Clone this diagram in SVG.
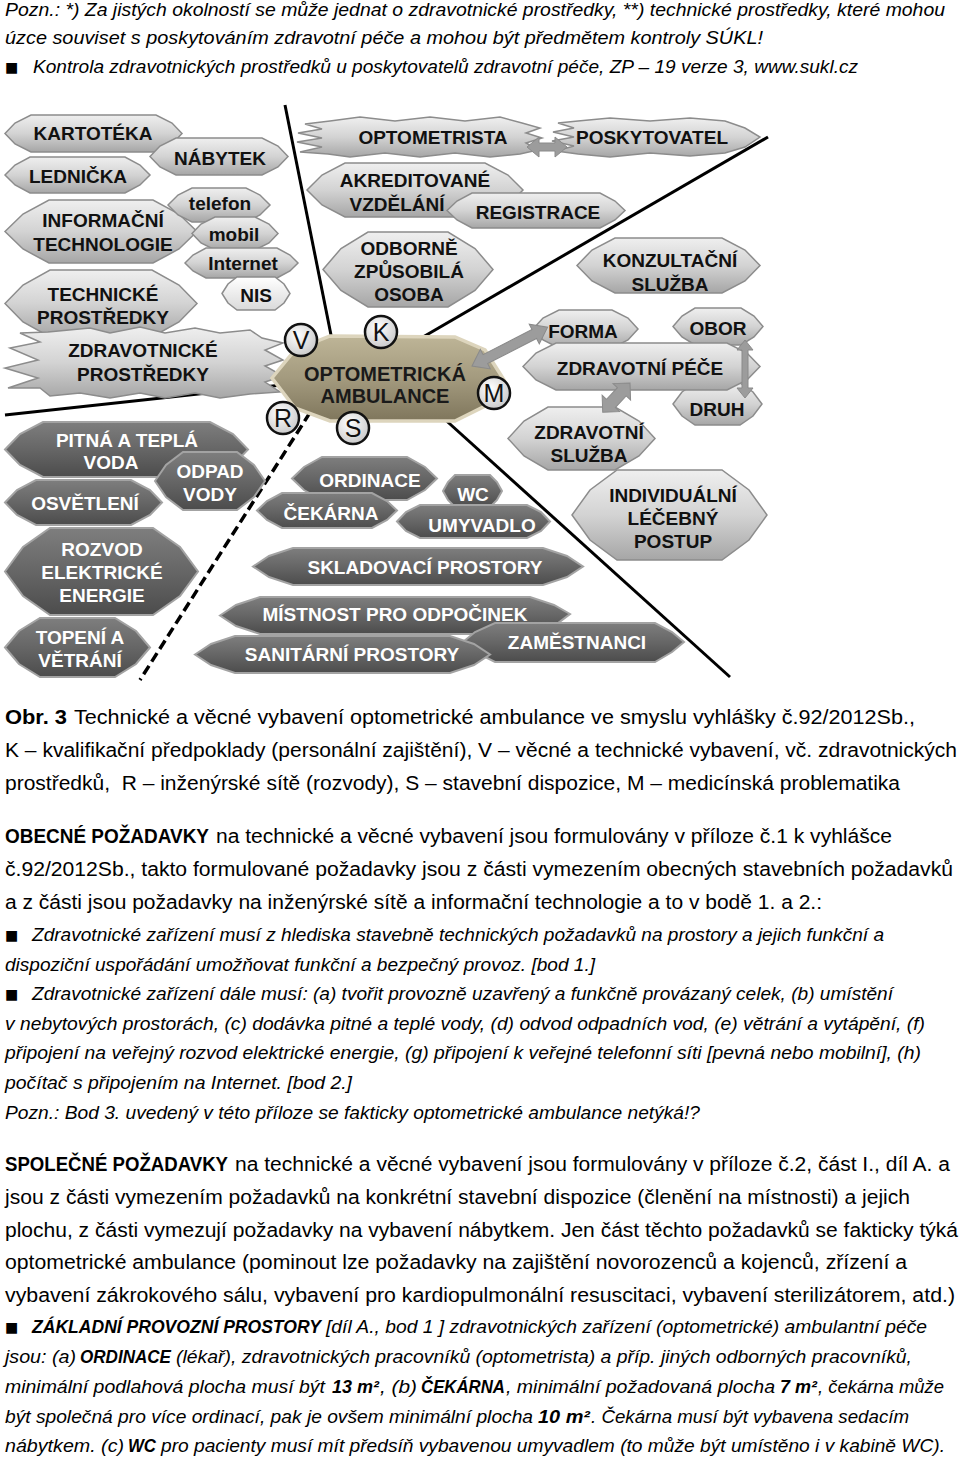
<svg xmlns="http://www.w3.org/2000/svg" width="960" height="1460" viewBox="0 0 960 1460">
<defs>
<linearGradient id="gL" x1="0" y1="0" x2="0" y2="1"><stop offset="0" stop-color="#efefef"/><stop offset="0.5" stop-color="#d3d3d3"/><stop offset="1" stop-color="#a6a6a6"/></linearGradient>
<linearGradient id="gW" x1="0" y1="0" x2="0" y2="1"><stop offset="0" stop-color="#ffffff"/><stop offset="1" stop-color="#dadada"/></linearGradient>
<linearGradient id="gD" x1="0" y1="0" x2="0" y2="1"><stop offset="0" stop-color="#7e7e7e"/><stop offset="0.5" stop-color="#666"/><stop offset="1" stop-color="#4c4c4c"/></linearGradient>
<linearGradient id="gA" x1="0" y1="0" x2="0" y2="1"><stop offset="0" stop-color="#beb597"/><stop offset="0.5" stop-color="#a39a7e"/><stop offset="1" stop-color="#7f765c"/></linearGradient>
<radialGradient id="gC" cx="0.4" cy="0.35" r="0.7"><stop offset="0" stop-color="#ffffff"/><stop offset="1" stop-color="#c8c8c8"/></radialGradient>
<style>
.lt{fill:url(#gL);stroke:#8c8c8c;stroke-width:1.5}
.wt{fill:url(#gW);stroke:#8c8c8c;stroke-width:1.5}
.dk{fill:url(#gD);stroke:#a3a3a3;stroke-width:2}
.amb{fill:url(#gA);stroke:#ddd5bd;stroke-width:3.5}
.nt{font-family:"Liberation Sans",Arial,sans-serif;font-weight:700;font-size:19px;text-anchor:middle;fill:#111}
.nw{font-family:"Liberation Sans",Arial,sans-serif;font-weight:700;font-size:19px;text-anchor:middle;fill:#fff}
.na{font-family:"Liberation Sans",Arial,sans-serif;font-weight:700;font-size:20px;text-anchor:middle;fill:#1a1a1a}
.sep{stroke:#000;stroke-width:3;fill:none}
.dash{stroke:#000;stroke-width:3.5;stroke-dasharray:10 5;fill:none}
.arr{fill:#9c9c9c;stroke:#8a8a8a;stroke-width:1}
.circ{fill:url(#gC);stroke:#111;stroke-width:2.5}
.ct{font-family:"Liberation Sans",Arial,sans-serif;font-size:25px;text-anchor:middle;fill:#111}
.tx{font-family:"Liberation Sans",Arial,sans-serif;font-size:20px;fill:#000}
.it{font-family:"Liberation Sans",Arial,sans-serif;font-size:18px;font-style:italic;fill:#000}
.top{font-family:"Liberation Sans",Arial,sans-serif;font-size:19px;font-style:italic;fill:#000}
.bd{font-weight:700}
.bu{font-family:"DejaVu Sans",sans-serif;font-size:14px;fill:#000}
</style>
</defs>
<rect width="960" height="1460" fill="#fff"/>

<!-- header notes -->
<g id="notes">
<text class="top" x="5" y="16" textLength="940" lengthAdjust="spacingAndGlyphs">Pozn.: *) Za jistých okolností se může jednat o zdravotnické prostředky, **) technické prostředky, které mohou</text>
<text class="top" x="5" y="44" textLength="758" lengthAdjust="spacingAndGlyphs">úzce souviset s poskytováním zdravotní péče a mohou být předmětem kontroly SÚKL!</text>
<text class="bu" x="5" y="72">■</text>
<text class="top" x="33" y="73" textLength="825" lengthAdjust="spacingAndGlyphs">Kontrola zdravotnických prostředků u poskytovatelů zdravotní péče, ZP – 19 verze 3, www.sukl.cz</text>
</g>

<!-- separators -->
<g id="separators">
<line class="sep" x1="285" y1="105" x2="333" y2="345"/>
<line class="sep" x1="423" y1="337" x2="768" y2="137"/>
<line class="sep" x1="440" y1="415" x2="730" y2="677"/>
<line class="sep" x1="5" y1="415" x2="282" y2="385"/>
<line class="dash" x1="318" y1="400" x2="140" y2="680"/>
</g>

<!-- left top -->
<g id="kartoteka"><polygon class="lt" points="5,133.5 15,123 31,115 156,115 172,123 182,133.5 172,144 156,152 31,152 15,144"/><text class="nt" x="93" y="140">KARTOTÉKA</text></g>
<g id="nabytek"><polygon class="lt" points="150,156.5 160,146 176,138 262,138 278,146 288,156.5 278,167 262,175 176,175 160,167"/><text class="nt" x="220" y="165">NÁBYTEK</text></g>
<g id="lednicka"><polygon class="lt" points="5,175 15,165 30,157 125,157 140,165 150,175 140,185 125,193 30,193 15,185"/><text class="nt" x="78" y="183">LEDNIČKA</text></g>
<g id="informacni"><polygon class="lt" points="5,231.5 23,214 49,200 153,200 179,214 197,231.5 179,249 153,263 49,263 23,249"/><text class="nt" x="103" y="227">INFORMAČNÍ</text><text class="nt" x="103" y="251">TECHNOLOGIE</text></g>
<g id="telefon"><polygon class="lt" points="168,205 178,195 192,188 246,188 260,195 270,205 260,215 246,222 192,222 178,215"/><text class="nt" x="220" y="210">telefon</text></g>
<g id="mobil"><polygon class="lt" points="192,233.5 201,224 215,217 255,217 269,224 278,233.5 269,243 255,250 215,250 201,243"/><text class="nt" x="234" y="241">mobil</text></g>
<g id="internet"><polygon class="lt" points="185,263 193,255 206,248 277,248 290,255 298,263 290,271 277,278 206,278 193,271"/><text class="nt" x="243" y="270">Internet</text></g>
<g id="nis"><polygon class="wt" points="222,293.5 228,284 237,277 275,277 284,284 290,293.5 284,303 275,310 237,310 228,303"/><text class="nt" x="256" y="302">NIS</text></g>
<g id="technicke"><polygon class="lt" points="5,303.5 23,285 50,270 152,270 179,285 197,303.5 179,322 152,337 50,337 23,322"/><text class="nt" x="103" y="301">TECHNICKÉ</text><text class="nt" x="103" y="324">PROSTŘEDKY</text></g>
<g id="zdravotnicke"><polygon class="lt" points="48,332 90,328 110,333 140,327 165,333 195,328 220,333 250,330 262,338 283,343 265,350 283,360 265,366 283,376 265,382 280,392 250,394 220,398 195,393 165,398 140,393 110,398 80,393 50,396 40,388 8,388 38,378 5,368 38,360 10,348 40,342 20,333"/><text class="nt" x="143" y="357">ZDRAVOTNICKÉ</text><text class="nt" x="143" y="381">PROSTŘEDKY</text></g>

<!-- left bottom -->
<g id="pitna"><polygon class="dk" points="5,449.5 20,434 43,422 210,422 233,434 248,449.5 233,465 210,477 43,477 20,465"/><text class="nw" x="127" y="447">PITNÁ  A TEPLÁ</text><text class="nw" x="111" y="469">VODA</text></g>
<g id="osvetleni"><polygon class="dk" points="5,502.5 17,490 36,480 131,480 150,490 162,502.5 150,515 131,525 36,525 17,515"/><text class="nw" x="85" y="510">OSVĚTLENÍ</text></g>
<g id="odpad"><polygon class="dk" points="155,481 166,465 183,452 237,452 254,465 265,481 254,497 237,510 183,510 166,497"/><text class="nw" x="210" y="478">ODPAD</text><text class="nw" x="210" y="501">VODY</text></g>
<g id="rozvod"><polygon class="dk" points="5,571.5 23,547 50,528 153,528 180,547 198,571.5 180,596 153,615 50,615 23,596"/><text class="nw" x="102" y="556">ROZVOD</text><text class="nw" x="102" y="579">ELEKTRICKÉ</text><text class="nw" x="102" y="602">ENERGIE</text></g>
<g id="topeni"><polygon class="dk" points="5,647.5 19,631 40,618 115,618 136,631 150,647.5 136,664 115,677 40,677 19,664"/><text class="nw" x="80" y="644">TOPENÍ  A</text><text class="nw" x="80" y="667">VĚTRÁNÍ</text></g>

<!-- middle top -->
<g id="optometrista"><polygon class="lt" points="330,121 360,117 395,121 430,117 465,121 500,117 522,123 540,128 526,133 542,138 526,143 538,150 520,154 490,157 455,153 420,157 385,153 350,157 328,154 300,152 322,147 297,142 322,138 298,133 322,129 305,124"/><text class="nt" x="433" y="144">OPTOMETRISTA</text></g>
<g id="poskytovatel"><polygon class="lt" points="578,121 610,118 650,121 690,118 725,121 745,128 760,137 745,147 725,153 690,156 650,153 610,157 578,154 556,151 574,146 552,141 574,137 553,132 574,128 558,123"/><text class="nt" x="652" y="144">POSKYTOVATEL</text></g>
<g id="akreditovane"><polygon class="lt" points="307,190 322,175 345,163 485,163 508,175 523,190 508,205 485,217 345,217 322,205"/><text class="nt" x="415" y="187">AKREDITOVANÉ</text><text class="nt" x="397" y="211">VZDĚLÁNÍ</text></g>
<g id="registrace"><polygon class="lt" points="447,210.5 457,201 472,193 600,193 615,201 625,210.5 615,220 600,228 472,228 457,220"/><text class="nt" x="538" y="219">REGISTRACE</text></g>
<g id="odborne"><polygon class="lt" points="323,269.5 341,248.5 368,232 448,232 475,248.5 493,269.5 475,290.5 448,307 368,307 341,290.5"/><text class="nt" x="409" y="255">ODBORNĚ</text><text class="nt" x="409" y="278">ZPŮSOBILÁ</text><text class="nt" x="409" y="301">OSOBA</text></g>

<!-- right -->
<g id="konzultacni"><polygon class="lt" points="577,265.5 592,250 615,238 722,238 745,250 760,265.5 745,281 722,293 615,293 592,281"/><text class="nt" x="670" y="267">KONZULTAČNÍ</text><text class="nt" x="670" y="291">SLUŽBA</text></g>
<g id="forma"><polygon class="lt" points="533,329 543,318 559,310 612,310 628,318 638,329 628,340 612,348 559,348 543,340"/><text class="nt" x="583" y="338">FORMA</text></g>
<g id="obor"><polygon class="lt" points="673,326.5 682,316 695,308 741,308 754,316 763,326.5 754,337 741,345 695,345 682,337"/><text class="nt" x="718" y="335">OBOR</text></g>
<g id="druh"><polygon class="lt" points="673,404 682,392 695,383 740,383 753,392 762,404 753,416 740,425 695,425 682,416"/><text class="nt" x="717" y="416">DRUH</text></g>
<g id="zdravotni-pece"><polygon class="lt" points="523,366.5 536,353 556,343 727,343 747,353 760,366.5 747,380 727,390 556,390 536,380"/><text class="nt" x="640" y="375">ZDRAVOTNÍ PÉČE</text></g>
<g id="zdravotni-sluzba"><polygon class="lt" points="508,438.5 524,421 548,407 615,407 639,421 655,438.5 639,456 615,470 548,470 524,456"/><text class="nt" x="589" y="439">ZDRAVOTNÍ</text><text class="nt" x="589" y="462">SLUŽBA</text></g>
<g id="individualni"><polygon class="lt" points="572,515 590,490 617,470 722,470 749,490 767,515 749,540 722,560 617,560 590,540"/><text class="nt" x="673" y="502">INDIVIDUÁLNÍ</text><text class="nt" x="673" y="525">LÉČEBNÝ</text><text class="nt" x="673" y="548">POSTUP</text></g>

<!-- middle bottom -->
<g id="ordinace"><polygon class="dk" points="292,478.5 304,467 322,457 407,457 425,467 437,478.5 425,490 407,500 322,500 304,490"/><text class="nw" x="370" y="487">ORDINACE</text></g>
<g id="cekarna"><polygon class="dk" points="257,510.5 267,501 282,493 372,493 387,501 397,510.5 387,520 372,528 282,528 267,520"/><text class="nw" x="331" y="520">ČEKÁRNA</text></g>
<g id="wc"><polygon class="dk" points="443,491 448,482 455,475 490,475 497,482 502,491 497,500 490,507 455,507 448,500"/><text class="nw" x="473" y="501">WC</text></g>
<g id="umyvadlo"><polygon class="dk" points="397,521.5 406,512 420,505 527,505 541,512 550,521.5 541,531 527,538 420,538 406,531"/><text class="nw" x="482" y="532">UMYVADLO</text></g>
<g id="skladovaci"><polygon class="dk" points="253,566.5 269,556 293,548 543,548 567,556 583,566.5 567,577 543,585 293,585 269,577"/><text class="nw" x="425" y="574">SKLADOVACÍ PROSTORY</text></g>
<g id="mistnost"><polygon class="dk" points="220,615.5 236,605 260,597 530,597 554,605 570,614 554,626 530,634 260,634 236,626"/><text class="nw" x="395" y="621">MÍSTNOST PRO ODPOČINEK</text></g>
<g id="zamestnanci"><polygon class="dk" points="463,642 475,632 495,623 655,623 672,632 684,642 672,652 655,662 495,662 475,652"/><text class="nw" x="577" y="649">ZAMĚSTNANCI</text></g>
<g id="sanitarni"><polygon class="dk" points="195,654.5 211,644 235,636 450,636 474,644 490,654.5 474,665 450,673 235,673 211,665"/><text class="nw" x="352" y="661">SANITÁRNÍ PROSTORY</text></g>

<!-- central node -->
<g id="ambulance"><polygon class="amb" points="272,378 295,350 330,336 455,337 485,350 504,380 485,406 455,421 330,421 295,408"/><text class="na" x="385" y="381">OPTOMETRICKÁ</text><text class="na" x="385" y="403">AMBULANCE</text></g>
<g id="mark-v"><circle class="circ" cx="301" cy="340" r="16"/><text class="ct" x="301" y="349">V</text></g>
<g id="mark-k"><circle class="circ" cx="381" cy="332" r="16"/><text class="ct" x="381" y="341">K</text></g>
<g id="mark-m"><circle class="circ" cx="494" cy="393" r="16"/><text class="ct" x="494" y="402">M</text></g>
<g id="mark-r"><circle class="circ" cx="283" cy="418" r="16"/><text class="ct" x="283" y="427">R</text></g>
<g id="mark-s"><circle class="circ" cx="353" cy="428" r="16"/><text class="ct" x="353" y="437">S</text></g>

<!-- connectors (gray double arrows) -->
<g id="connectors">
<polygon class="arr" points="527,147 539,137 539,143 555,143 555,137 567,147 555,157 555,151 539,151 539,157"/>
<polygon class="arr" transform="translate(472,366) rotate(-27.2)" points="0,0 15,-11 15,-5 70,-5 70,-11 85,0 70,11 70,5 15,5 15,11"/>
<polygon class="arr" transform="translate(745,340) rotate(90)" points="0,0 10,-8 10,-3 48,-3 48,-8 58,0 48,8 48,3 10,3 10,8"/>
<polygon class="arr" transform="translate(630,383) rotate(133)" points="0,0 12,-12 12,-6 28,-6 28,-12 40,0 28,12 28,6 12,6 12,12"/>
</g>

<!-- caption -->
<g id="caption">
<text class="tx bd" x="5" y="724" textLength="62" lengthAdjust="spacingAndGlyphs">Obr. 3</text>
<text class="tx" x="74" y="724" textLength="841" lengthAdjust="spacingAndGlyphs">Technické a věcné vybavení optometrické ambulance ve smyslu vyhlášky č.92/2012Sb.,</text>
<text class="tx" x="5" y="757" textLength="952" lengthAdjust="spacingAndGlyphs">K – kvalifikační předpoklady (personální zajištění), V – věcné a technické vybavení, vč. zdravotnických</text>
<text class="tx" x="5" y="790" textLength="895" lengthAdjust="spacingAndGlyphs">prostředků,&#160; R – inženýrské sítě (rozvody), S – stavební dispozice, M – medicínská problematika</text>
</g>

<g id="obecne">
<text class="tx bd" x="5" y="843" textLength="204" lengthAdjust="spacingAndGlyphs">OBECNÉ POŽADAVKY</text>
<text class="tx" x="216" y="843" textLength="676" lengthAdjust="spacingAndGlyphs">na technické a věcné vybavení jsou formulovány v příloze č.1 k vyhlášce</text>
<text class="tx" x="5" y="876" textLength="948" lengthAdjust="spacingAndGlyphs">č.92/2012Sb., takto formulované požadavky jsou z části vymezením obecných stavebních požadavků</text>
<text class="tx" x="5" y="909" textLength="817" lengthAdjust="spacingAndGlyphs">a z části jsou požadavky na inženýrské sítě a informační technologie a to v bodě 1. a 2.:</text>
<text class="bu" x="5" y="940">■</text>
<text class="it" x="32" y="941" textLength="852" lengthAdjust="spacingAndGlyphs">Zdravotnické zařízení musí z hlediska stavebně technických požadavků na prostory a jejich funkční a</text>
<text class="it" x="5" y="971" textLength="590" lengthAdjust="spacingAndGlyphs">dispoziční uspořádání umožňovat funkční a bezpečný provoz. [bod 1.]</text>
<text class="bu" x="5" y="999">■</text>
<text class="it" x="32" y="1000" textLength="861" lengthAdjust="spacingAndGlyphs">Zdravotnické zařízení dále musí: (a) tvořit provozně uzavřený a funkčně provázaný celek, (b) umístění</text>
<text class="it" x="5" y="1030" textLength="920" lengthAdjust="spacingAndGlyphs">v nebytových prostorách, (c) dodávka pitné a teplé vody, (d) odvod odpadních vod, (e) větrání a vytápění, (f)</text>
<text class="it" x="5" y="1059" textLength="916" lengthAdjust="spacingAndGlyphs">připojení na veřejný rozvod elektrické energie, (g) připojení k veřejné telefonní síti [pevná nebo mobilní], (h)</text>
<text class="it" x="5" y="1089" textLength="347" lengthAdjust="spacingAndGlyphs">počítač s připojením na Internet. [bod 2.]</text>
<text class="it" x="5" y="1119" textLength="695" lengthAdjust="spacingAndGlyphs">Pozn.: Bod 3. uvedený v této příloze se fakticky optometrické ambulance netýká!?</text>
</g>

<g id="spolecne">
<text class="tx bd" x="5" y="1171" textLength="223" lengthAdjust="spacingAndGlyphs">SPOLEČNÉ POŽADAVKY</text>
<text class="tx" x="235" y="1171" textLength="715" lengthAdjust="spacingAndGlyphs">na technické a věcné vybavení jsou formulovány v příloze č.2, část I., díl A. a</text>
<text class="tx" x="5" y="1204" textLength="905" lengthAdjust="spacingAndGlyphs">jsou z části vymezením požadavků na konkrétní stavební dispozice (členění na místnosti) a jejich</text>
<text class="tx" x="5" y="1237" textLength="953" lengthAdjust="spacingAndGlyphs">plochu, z části vymezují požadavky na vybavení nábytkem. Jen část těchto požadavků se fakticky týká</text>
<text class="tx" x="5" y="1269" textLength="902" lengthAdjust="spacingAndGlyphs">optometrické ambulance (pominout lze požadavky na zajištění novorozenců a kojenců, zřízení a</text>
<text class="tx" x="5" y="1302" textLength="950" lengthAdjust="spacingAndGlyphs">vybavení zákrokového sálu, vybavení pro kardiopulmonální resuscitaci, vybavení sterilizátorem, atd.)</text>
<text class="bu" x="5" y="1332">■</text>
<text class="it bd" x="32" y="1333" textLength="289" lengthAdjust="spacingAndGlyphs">ZÁKLADNÍ PROVOZNÍ PROSTORY</text>
<text class="it" x="326" y="1333" textLength="601" lengthAdjust="spacingAndGlyphs">[díl A., bod 1 ] zdravotnických zařízení (optometrické) ambulantní péče</text>
<text class="it" x="5" y="1363" textLength="71" lengthAdjust="spacingAndGlyphs">jsou: (a)</text>
<text class="it bd" x="80" y="1363" textLength="91" lengthAdjust="spacingAndGlyphs">ORDINACE</text>
<text class="it" x="176" y="1363" textLength="736" lengthAdjust="spacingAndGlyphs">(lékař), zdravotnických pracovníků (optometrista) a příp. jiných odborných pracovníků,</text>
<text class="it" x="5" y="1393" textLength="320" lengthAdjust="spacingAndGlyphs">minimální podlahová plocha musí být</text>
<text class="it bd" x="332" y="1393" textLength="47" lengthAdjust="spacingAndGlyphs">13 m²</text>
<text class="it" x="380" y="1393" textLength="37" lengthAdjust="spacingAndGlyphs">, (b)</text>
<text class="it bd" x="421" y="1393" textLength="84" lengthAdjust="spacingAndGlyphs">ČEKÁRNA</text>
<text class="it" x="506" y="1393" textLength="269" lengthAdjust="spacingAndGlyphs">, minimální požadovaná plocha</text>
<text class="it bd" x="780" y="1393" textLength="37" lengthAdjust="spacingAndGlyphs">7 m²</text>
<text class="it" x="818" y="1393" textLength="126" lengthAdjust="spacingAndGlyphs">, čekárna může</text>
<text class="it" x="5" y="1423" textLength="528" lengthAdjust="spacingAndGlyphs">být společná pro více ordinací, pak je ovšem minimální plocha</text>
<text class="it bd" x="538" y="1423" textLength="52" lengthAdjust="spacingAndGlyphs">10 m²</text>
<text class="it" x="591" y="1423" textLength="318" lengthAdjust="spacingAndGlyphs">. Čekárna musí být vybavena sedacím</text>
<text class="it" x="5" y="1452" textLength="119" lengthAdjust="spacingAndGlyphs">nábytkem. (c)</text>
<text class="it bd" x="128" y="1452" textLength="28" lengthAdjust="spacingAndGlyphs">WC</text>
<text class="it" x="161" y="1452" textLength="784" lengthAdjust="spacingAndGlyphs">pro pacienty musí mít předsíň vybavenou umyvadlem (to může být umístěno i v kabině WC).</text>
</g>
</svg>
